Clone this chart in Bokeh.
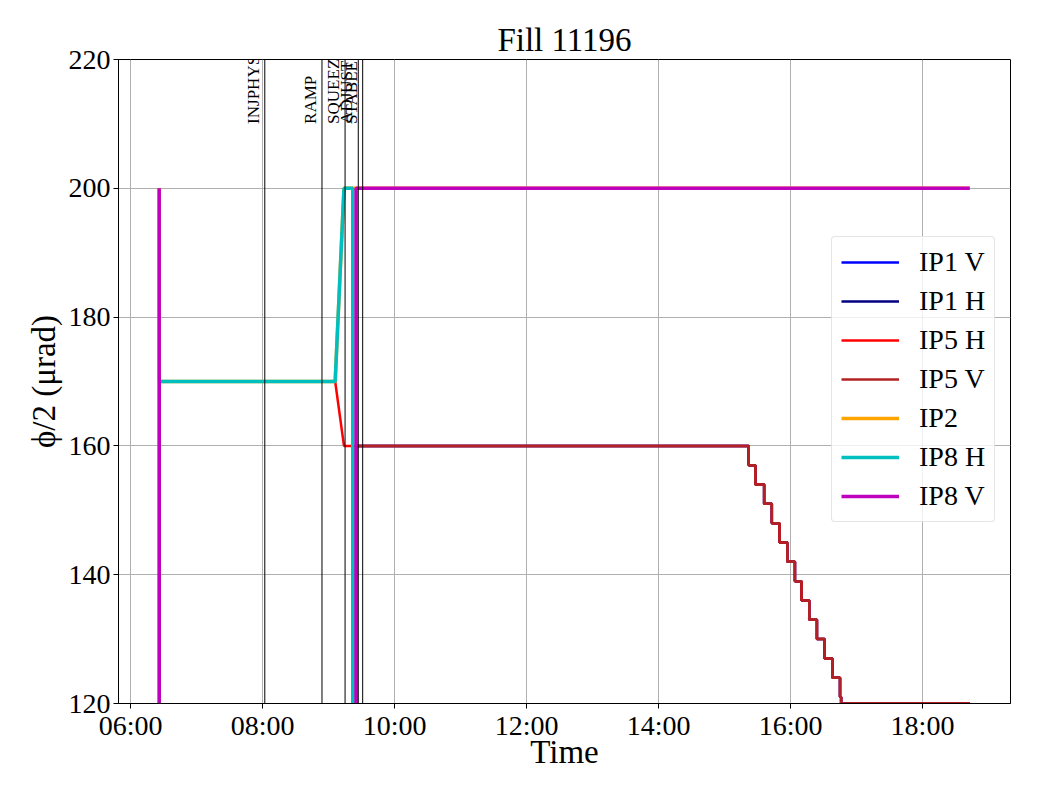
import math
import pandas as pd
from bokeh.plotting import figure
from bokeh.models import (Range1d, FixedTicker, DatetimeTickFormatter, Span,
                          ColumnDataSource, Label)
from bokeh.embed import file_html
from bokeh.resources import INLINE

DAY = "2025-09-20"
FONT = "Liberation Serif"

TITLE = "Fill 11196"
X_LABEL = "Time"
Y_LABEL = "ϕ/2 (μrad)"

X_TICKS = ["06:00", "08:00", "10:00", "12:00", "14:00", "16:00", "18:00"]
Y_TICKS = [120, 140, 160, 180, 200, 220]
X_START, X_END = "05:49", "19:20"
Y_START, Y_END = 120, 220

EVENT_NAMES = ["INJPHYS", "RAMP", "SQUEEZE", "ADJUST", "STABLE"]
EVENT_TIMES = ["08:02", "08:54", "09:15", "09:27", "09:31"]
EVENT_LABEL_Y = 210

# levelling staircase of IP1/IP5 crossing angle
STEP_TIMES = ["15:22", "15:28", "15:36", "15:43", "15:50", "15:57", "16:04",
              "16:10", "16:17", "16:24", "16:31", "16:38", "16:45", "16:46"]
STEP_LEVELS = [157, 154, 151, 148, 145, 142, 139, 136, 133, 130, 127, 124, 121, 120]
END_TIME = "18:43"

IP1_V_T = ["06:26", "06:26", "09:25", "09:25"]
IP1_V_V = [170, 0, 0, 160]
IP1_H_T = ["06:26", "06:26", "09:25", "09:25"]
IP1_H_V = [170, 0, 0, 160]
IP5_H_T = ["06:26", "06:26", "09:06", "09:14"]
IP5_H_V = [200, 170, 170, 160]
IP5_V_T = ["06:26", "06:26", "09:25", "09:25"]
IP5_V_V = [170, 0, 0, 160]
IP2_T = ["06:26", "06:26", "09:06", "09:14", "18:43"]
IP2_V = [200, 170, 170, 200, 200]
IP8_H_T = ["06:26", "09:06", "09:14", "09:22", "09:22"]
IP8_H_V = [170, 170, 200, 200, 0]
IP8_V_T = ["06:26", "06:26", "09:25", "09:25", "18:43"]
IP8_V_V = [200, 0, 0, 200, 200]


def ts(t):
    return pd.Timestamp(f"{DAY} {t}")


def ms(t):
    return (ts(t) - pd.Timestamp("1970-01-01")) / pd.Timedelta(milliseconds=1)


def with_steps(times, vals):
    t = list(times)
    v = list(vals)
    prev = v[-1]
    for st, lv in zip(STEP_TIMES, STEP_LEVELS):
        t += [st, st]
        v += [prev, lv]
        prev = lv
    t.append(END_TIME)
    v.append(prev)
    return t, v


series = [
    ("IP1 V", *with_steps(IP1_V_T, IP1_V_V), "#0000ff", 2.5),
    ("IP1 H", *with_steps(IP1_H_T, IP1_H_V), "#000080", 2.5),
    ("IP5 H", *with_steps(IP5_H_T, IP5_H_V), "#ff0000", 2.5),
    ("IP5 V", *with_steps(IP5_V_T, IP5_V_V), "#b22222", 2.5),
    ("IP2", IP2_T, IP2_V, "#ffa500", 3.5),
    ("IP8 H", IP8_H_T, IP8_H_V, "#00bfbf", 3.5),
    ("IP8 V", IP8_V_T, IP8_V_V, "#bf00bf", 3.5),
]

p = figure(width=1032, height=792, x_axis_type="datetime",
           output_backend="svg", toolbar_location=None,
           x_range=Range1d(ts(X_START), ts(X_END)),
           y_range=Range1d(Y_START, Y_END),
           min_border_left=118, min_border_right=22,
           min_border_top=59, min_border_bottom=89)
p.background_fill_color = "white"
p.border_fill_color = "white"
p.outline_line_color = "black"
p.outline_line_width = 1

p.title.text = TITLE
p.title.align = "center"
p.title.text_font = FONT
p.title.text_font_size = "33px"
p.title.text_font_style = "normal"
p.title.text_color = "black"
p.title.standoff = 4

for name, t, v, color, lw in series:
    src = ColumnDataSource(dict(x=[ts(s) for s in t], y=v))
    p.line("x", "y", source=src, line_color=color, line_width=lw,
           legend_label=name)

for name, t in zip(EVENT_NAMES, EVENT_TIMES):
    p.add_layout(Span(location=ms(t), dimension="height",
                      line_color="black", line_width=1))
    p.add_layout(Label(x=ms(t), y=EVENT_LABEL_Y, text=name, angle=math.pi / 2,
                       text_align="left", text_baseline="bottom", x_offset=-2,
                       text_font=FONT, text_font_size="17px",
                       text_color="black", level="overlay"))

p.xaxis.ticker = FixedTicker(ticks=[ms(t) for t in X_TICKS])
fmt = "%H:%M"
p.xaxis.formatter = DatetimeTickFormatter(
    milliseconds=fmt, seconds=fmt, minsec=fmt, minutes=fmt, hourmin=fmt,
    hours=fmt, days=fmt, months=fmt, years=fmt)
p.yaxis.ticker = FixedTicker(ticks=Y_TICKS)

for ax in (p.xaxis[0], p.yaxis[0]):
    ax.axis_line_color = "black"
    ax.major_tick_line_color = "black"
    ax.major_tick_out = 5
    ax.major_tick_in = 0
    ax.minor_tick_line_color = None
    ax.major_label_text_font = FONT
    ax.major_label_text_font_size = "28px"
    ax.major_label_text_color = "black"
    ax.major_label_standoff = 3
    ax.axis_label_text_font = FONT
    ax.axis_label_text_font_size = "33px"
    ax.axis_label_text_font_style = "normal"
    ax.axis_label_text_color = "black"
p.xaxis.major_label_standoff = 1
p.xaxis.axis_label = X_LABEL
p.yaxis.axis_label = Y_LABEL
p.xaxis.axis_label_standoff = -10
p.yaxis.axis_label_standoff = 4

p.grid.grid_line_color = "#b0b0b0"
p.grid.grid_line_width = 1

lg = p.legend[0]
lg.location = (713, 181)
lg.label_text_font = FONT
lg.label_text_font_size = "28px"
lg.label_text_color = "black"
lg.glyph_width = 58
lg.glyph_height = 32
lg.label_height = 32
lg.spacing = 7
lg.padding = 9
lg.margin = 0
lg.label_standoff = 20
lg.border_line_color = "#cccccc"
lg.border_line_width = 1
lg.background_fill_alpha = 0.8
if "border_radius" in lg.properties():
    lg.border_radius = 4

open("out.html", "w").write(file_html(p, INLINE))
